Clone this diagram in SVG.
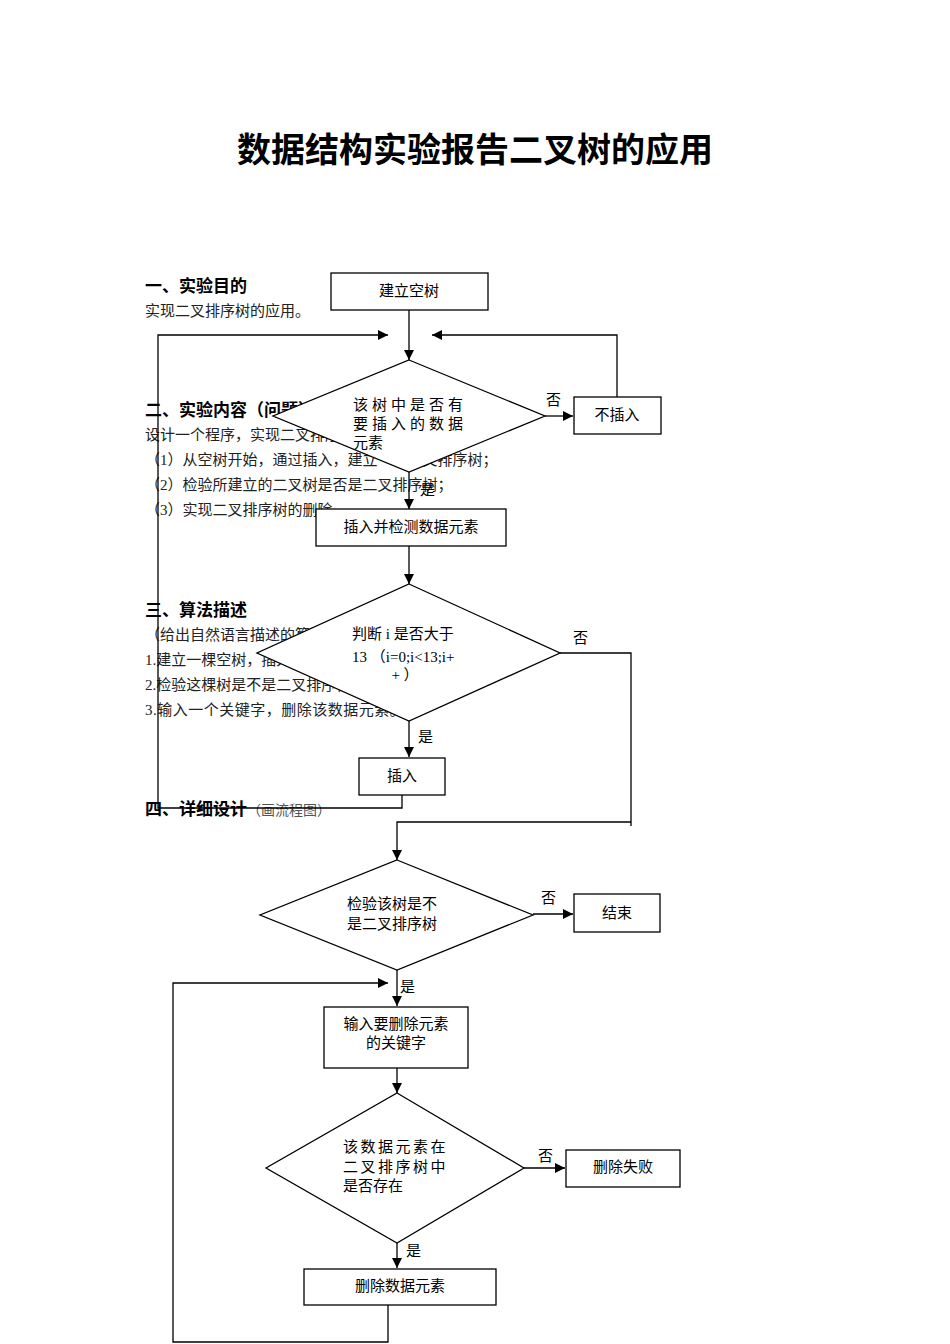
<svg xmlns="http://www.w3.org/2000/svg" width="950" height="1344" viewBox="0 0 950 1344">
<defs>
<marker id="a" viewBox="0 0 10 10" refX="10" refY="5" markerWidth="10" markerHeight="10" markerUnits="userSpaceOnUse" orient="auto"><path d="M0,0 L10,5 L0,10 z" fill="#000"/></marker>
<style>
text{font-family:"Liberation Serif","Noto Sans CJK SC",serif;fill:#000}
.t{font-size:34px;font-weight:bold}
.h{font-size:17px;font-weight:bold}
.b{font-size:15px;fill:#222}
.n{font-size:15px}
.g{font-size:14px;fill:#555}
.s{fill:#fff;stroke:#000;stroke-width:1.3}
.c{fill:none;stroke:#000;stroke-width:1.3}
</style>
</defs>
<rect width="950" height="1344" fill="#fff"/>
<text class="t" x="475" y="162" text-anchor="middle">数据结构实验报告二叉树的应用</text>
<g id="doc">
<text class="h" x="145" y="292">一、实验目的</text>
<text class="b" x="145" y="316">实现二叉排序树的应用。</text>
<text class="h" x="145" y="416">二、实验内容（问题）</text>
<text class="b" x="145" y="440">设计一个程序，实现二叉排序树的应用，具体要求：</text>
<text class="b" x="145" y="465">（1）从空树开始，通过插入，建立一棵二叉排序树；</text>
<text class="b" x="145" y="490">（2）检验所建立的二叉树是否是二叉排序树；</text>
<text class="b" x="145" y="515">（3）实现二叉排序树的删除。</text>
<text class="h" x="145" y="616">三、算法描述</text>
<text class="b" x="145" y="640">（给出自然语言描述的算法）</text>
<text class="b" x="145" y="665">1.建立一棵空树，插入数据元素；</text>
<text class="b" x="145" y="690">2.检验这棵树是不是二叉排序树；</text>
<text class="b" x="145" y="715" letter-spacing="0.5">3.输入一个关键字，删除该数据元素。</text>
<text class="h" x="145" y="815">四、详细设计<tspan class="g" font-weight="normal">（画流程图）</tspan></text>
</g>
<g id="connectors">
<path class="c" d="M409,310 V360" marker-end="url(#a)"/>
<path class="c" d="M402,795 V808 H158 V335 H388" marker-end="url(#a)"/>
<path class="c" d="M617,397 V335 H432" marker-end="url(#a)"/>
<path class="c" d="M545,416 H573" marker-end="url(#a)"/>
<path class="c" d="M409,472 V509" marker-end="url(#a)"/>
<path class="c" d="M409,546 V584" marker-end="url(#a)"/>
<path class="c" d="M560,653 H631 V826"/>
<path class="c" d="M409,721 V757" marker-end="url(#a)"/>
<path class="c" d="M631,822 H397 V860" marker-end="url(#a)"/>
<path class="c" d="M533,914 H573" marker-end="url(#a)"/>
<path class="c" d="M397,970 V1006" marker-end="url(#a)"/>
<path class="c" d="M397,1068 V1093" marker-end="url(#a)"/>
<path class="c" d="M524,1168 H565" marker-end="url(#a)"/>
<path class="c" d="M397,1243 V1268" marker-end="url(#a)"/>
<path class="c" d="M388,1305 V1342 H173 V983 H388" marker-end="url(#a)"/>
</g>
<g id="n1"><rect class="s" x="331" y="273" width="157" height="37"/><text class="n" x="409" y="296" text-anchor="middle">建立空树</text></g>
<g id="d1"><polygon class="s" points="409,360 545,416 409,472 273,416"/>
<text class="n" x="353" y="410" letter-spacing="4">该树中是否有</text>
<text class="n" x="353" y="429" letter-spacing="4">要插入的数据</text>
<text class="n" x="353" y="448">元素</text></g>
<g id="n2"><rect class="s" x="574" y="397" width="87" height="37"/><text class="n" x="617" y="420" text-anchor="middle">不插入</text></g>
<g id="n3"><rect class="s" x="316" y="509" width="190" height="37"/><text class="n" x="411" y="532" text-anchor="middle">插入并检测数据元素</text></g>
<g id="d2"><polygon class="s" points="409,584 560,653 409,721 257,653"/>
<text class="n" x="352" y="639">判断 i 是否大于</text>
<text class="n" x="352" y="662">13 （i=0;i&lt;13;i+</text>
<text class="n" x="405" y="680" text-anchor="middle">+ ）</text></g>
<g id="n4"><rect class="s" x="359" y="758" width="86" height="37"/><text class="n" x="402" y="781" text-anchor="middle">插入</text></g>
<g id="d3"><polygon class="s" points="397,860 533,915 397,970 260,915"/>
<text class="n" x="347" y="909">检验该树是不</text>
<text class="n" x="347" y="929">是二叉排序树</text></g>
<g id="n5"><rect class="s" x="574" y="894" width="86" height="38"/><text class="n" x="617" y="918" text-anchor="middle">结束</text></g>
<g id="n6"><rect class="s" x="324" y="1007" width="144" height="61"/><text class="n" x="396" y="1029" text-anchor="middle">输入要删除元素</text><text class="n" x="396" y="1048" text-anchor="middle">的关键字</text></g>
<g id="d4"><polygon class="s" points="397,1093 524,1168 397,1243 266,1168"/>
<text class="n" x="343" y="1152" letter-spacing="2.5">该数据元素在</text>
<text class="n" x="343" y="1172" letter-spacing="2.5">二叉排序树中</text>
<text class="n" x="343" y="1191">是否存在</text></g>
<g id="n7"><rect class="s" x="566" y="1150" width="114" height="37"/><text class="n" x="623" y="1172" text-anchor="middle">删除失败</text></g>
<g id="n8"><rect class="s" x="304" y="1269" width="192" height="36"/><text class="n" x="400" y="1291" text-anchor="middle">删除数据元素</text></g>
<g id="labels">
<text class="n" x="546" y="405">否</text>
<text class="n" x="420" y="495">是</text>
<text class="n" x="573" y="643">否</text>
<text class="n" x="418" y="742">是</text>
<text class="n" x="541" y="903">否</text>
<text class="n" x="400" y="992">是</text>
<text class="n" x="538" y="1161">否</text>
<text class="n" x="406" y="1256">是</text>
</g>
</svg>
